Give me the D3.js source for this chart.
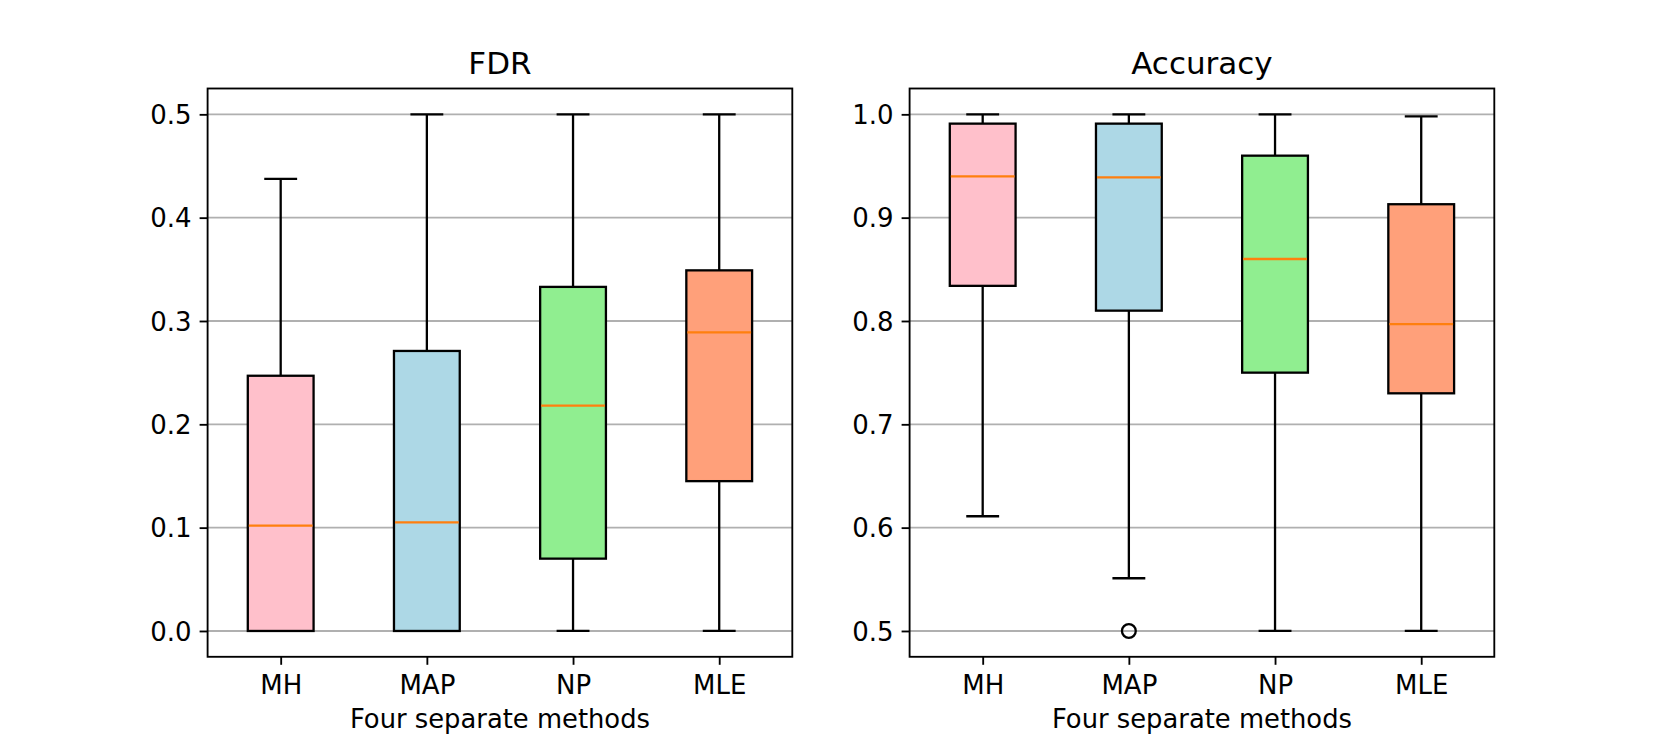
<!DOCTYPE html>
<html>
<head>
<meta charset="UTF-8">
<style>
  body { margin: 0; background: #fff; }
  svg { display: block; font-family: "DejaVu Sans", sans-serif; }
  .tick text { font-size: 26px; fill: #000; }
</style>
</head>
<body>
<svg id="chart" width="1661" height="738"></svg>
<script src="https://cdn.jsdelivr.net/npm/d3@7/dist/d3.min.js"></script>
<script>
// data
const methods = ["MH", "MAP", "NP", "MLE"];
const boxColors = ["pink", "lightblue", "lightgreen", "lightsalmon"];

// [lower whisker, q1, median, q3, upper whisker]
const fdrStats = [
  [0.0, 0.0, 0.102, 0.247, 0.4375],
  [0.0, 0.0, 0.105, 0.271, 0.5],
  [0.0, 0.070, 0.218, 0.333, 0.5],
  [0.0, 0.145, 0.289, 0.349, 0.5]
];
const fdrOutliers = [[], [], [], []];
const fdrTicks = [0.0, 0.1, 0.2, 0.3, 0.4, 0.5];

const accStats = [
  [0.611, 0.834, 0.940, 0.991, 1.0],
  [0.551, 0.810, 0.939, 0.991, 1.0],
  [0.5, 0.750, 0.860, 0.960, 1.0],
  [0.5, 0.730, 0.797, 0.913, 0.998]
];
const accOutliers = [[], [0.5], [], []];
const accTicks = [0.5, 0.6, 0.7, 0.8, 0.9, 1.0];

const svg = d3.select("#chart");
const axTop = 88.5, axBottom = 656.8;
const panelW = 584.7;
const lefts = [207.6, 909.6];
const lw = 1.85;

function drawPanel(x0, title, stats, outliers, ticks) {
  const yMin = d3.min(stats, d => d[0]), yMax = d3.max(stats, d => d[4]);
  const pad = (yMax - yMin) * 0.05;
  const x = d3.scaleLinear().domain([0.5, 4.5]).range([0, panelW]);
  const y = d3.scaleLinear().domain([yMin - pad, yMax + pad]).range([axBottom - axTop, 0]);

  const g = svg.append("g").attr("transform", `translate(${x0},${axTop})`);

  // grid
  g.append("g").selectAll("line").data(ticks).enter().append("line")
    .attr("x1", 0).attr("x2", panelW)
    .attr("y1", d => y(d)).attr("y2", d => y(d))
    .attr("stroke", "#b0b0b0").attr("stroke-width", lw);

  const boxW = 0.45, capW = boxW / 2;
  const boxes = g.append("g").selectAll("g").data(stats).enter().append("g");

  // whiskers
  boxes.append("line")
    .attr("x1", (d, i) => x(i + 1)).attr("x2", (d, i) => x(i + 1))
    .attr("y1", d => y(d[0])).attr("y2", d => y(d[1]))
    .attr("stroke", "#000").attr("stroke-width", 2.3);
  boxes.append("line")
    .attr("x1", (d, i) => x(i + 1)).attr("x2", (d, i) => x(i + 1))
    .attr("y1", d => y(d[3])).attr("y2", d => y(d[4]))
    .attr("stroke", "#000").attr("stroke-width", 2.3);
  // caps
  [0, 4].forEach(k => {
    boxes.append("line")
      .attr("x1", (d, i) => x(i + 1 - capW / 2)).attr("x2", (d, i) => x(i + 1 + capW / 2))
      .attr("y1", d => y(d[k])).attr("y2", d => y(d[k]))
      .attr("stroke", "#000").attr("stroke-width", 2.3);
  });
  // box
  boxes.append("rect")
    .attr("x", (d, i) => x(i + 1 - boxW / 2))
    .attr("width", x(boxW) - x(0))
    .attr("y", d => y(d[3]))
    .attr("height", d => y(d[1]) - y(d[3]))
    .attr("fill", (d, i) => boxColors[i])
    .attr("stroke", "#000").attr("stroke-width", 2.3);
  // median
  boxes.append("line")
    .attr("x1", (d, i) => x(i + 1 - boxW / 2) + 1).attr("x2", (d, i) => x(i + 1 + boxW / 2) - 1)
    .attr("y1", d => y(d[2])).attr("y2", d => y(d[2]))
    .attr("stroke", "#ff7f0e").attr("stroke-width", 2.3);
  // fliers
  outliers.forEach((vals, i) => {
    g.selectAll(null).data(vals).enter().append("circle")
      .attr("cx", x(i + 1)).attr("cy", d => y(d)).attr("r", 6.9)
      .attr("fill", "none").attr("stroke", "#000").attr("stroke-width", 2.3);
  });

  // frame
  g.append("rect").attr("width", panelW).attr("height", axBottom - axTop)
    .attr("fill", "none").attr("stroke", "#000").attr("stroke-width", lw);

  // axes
  const yAxis = d3.axisLeft(y).tickValues(ticks).tickFormat(d3.format(".1f"))
    .tickSize(8).tickPadding(8);
  const ya = g.append("g").call(yAxis);
  const xAxis = d3.axisBottom(x).tickValues([1, 2, 3, 4]).tickFormat(d => methods[d - 1])
    .tickSize(8).tickPadding(8);
  const xa = g.append("g").attr("transform", `translate(0,${axBottom - axTop})`).call(xAxis);
  [ya, xa].forEach(a => {
    a.select(".domain").remove();
    a.selectAll(".tick line").attr("stroke", "#000").attr("stroke-width", lw);
    a.selectAll(".tick text").attr("font-family", "DejaVu Sans");
  });
  ya.selectAll(".tick text").attr("dy", "0.35em");
  xa.selectAll(".tick text").attr("dy", "0.8em");

  // title and label
  g.append("text").attr("x", panelW / 2).attr("y", -15)
    .attr("text-anchor", "middle").attr("font-size", 31).text(title);
  g.append("text").attr("x", panelW / 2).attr("y", 728 - axTop)
    .attr("text-anchor", "middle").attr("font-size", 25.8).text("Four separate methods");
}

drawPanel(lefts[0], "FDR", fdrStats, fdrOutliers, fdrTicks);
drawPanel(lefts[1], "Accuracy", accStats, accOutliers, accTicks);
</script>
</body>
</html>
